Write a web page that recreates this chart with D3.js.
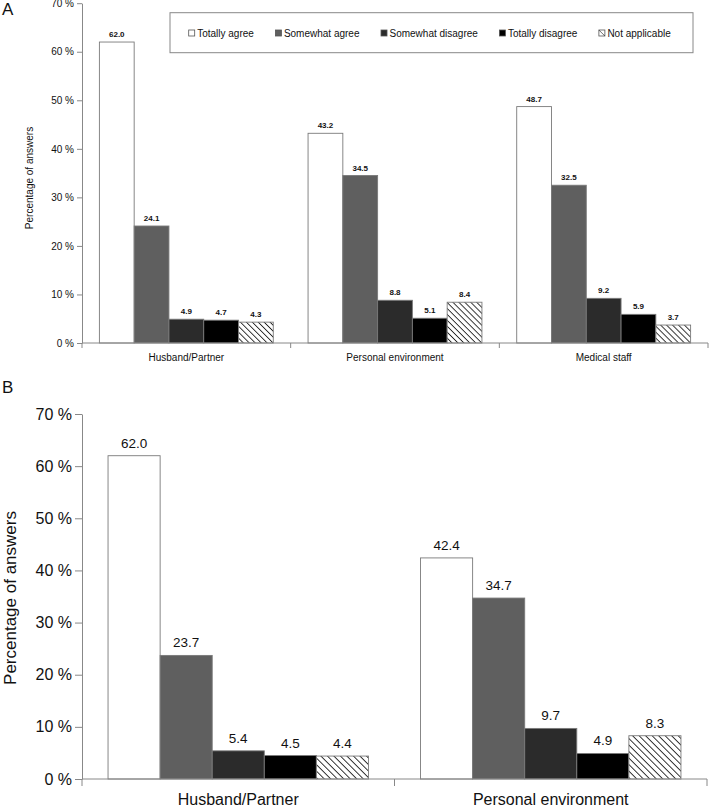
<!DOCTYPE html>
<html>
<head>
<meta charset="utf-8">
<script src="https://cdn.jsdelivr.net/npm/d3@7"></script>
<style>
  body { margin: 0; background: #fff; }
  text { font-family: 'Liberation Sans', Arial, sans-serif; fill: #111; }
</style>
</head>
<body>
<svg id="chart" width="709" height="808"></svg>
<script>
const responses = ['Totally agree', 'Somewhat agree', 'Somewhat disagree', 'Totally disagree', 'Not applicable']
const categoriesA = ['Husband/Partner', 'Personal environment', 'Medical staff']
const valuesA = [
  [62.0, 24.1, 4.9, 4.7, 4.3],
  [43.2, 34.5, 8.8, 5.1, 8.4],
  [48.7, 32.5, 9.2, 5.9, 3.7]
]
const categoriesB = ['Husband/Partner', 'Personal environment']
const valuesB = [
  [62.0, 23.7, 5.4, 4.5, 4.4],
  [42.4, 34.7, 9.7, 4.9, 8.3]
]
const yTicks = [0, 10, 20, 30, 40, 50, 60, 70]

const svg = d3.select('#chart')
const defs = svg.append('defs')

function hatch(id, size) {
  const p = defs.append('pattern')
      .attr('id', id)
      .attr('patternUnits', 'userSpaceOnUse')
      .attr('width', size)
      .attr('height', size)
      .attr('patternTransform', 'rotate(-45)')
  p.append('rect').attr('width', size).attr('height', size).attr('fill', '#fff')
  p.append('line')
      .attr('x1', size / 2).attr('x2', size / 2)
      .attr('y1', 0).attr('y2', size)
      .attr('stroke', '#222')
      .attr('stroke-width', 0.9)
}
hatch('hatchA', 4.2)
hatch('hatchB', 4.6)

const fills = id => ['#ffffff', '#5f5f5f', '#2b2b2b', '#000000', `url(#${id})`]

function drawPanel(o) {
  const g = svg.append('g')

  const y = d3.scaleLinear().domain([0, 70]).range([o.bottom, o.top])
  const x0 = d3.scaleBand()
      .domain(o.categories)
      .range([o.left, o.right])
      .paddingInner(1 / 6)
      .paddingOuter(1 / 12)
  const x1 = d3.scaleBand().domain(responses).range([0, x0.bandwidth()])
  const fill = fills(o.hatch)

  // y axis
  const yAxis = d3.axisLeft(y)
      .tickValues(yTicks)
      .tickFormat(d => d + ' %')
      .tickSize(o.tick)
      .tickSizeOuter(0)
  const ax = g.append('g')
      .attr('transform', `translate(${o.left}, 0)`)
      .call(yAxis)
  ax.select('.domain').attr('stroke', '#888')
  ax.selectAll('.tick line').attr('stroke', '#888')
  ax.selectAll('.tick text')
      .style('font-size', o.tickFont + 'px')
      .style('font-family', "'Liberation Sans', Arial, sans-serif")
      .attr('fill', '#111')
      .attr('x', -o.tick - 3)

  // bars
  const groups = g.selectAll('.grp')
      .data(o.values)
      .enter()
      .append('g')
      .attr('transform', (d, i) => `translate(${x0(o.categories[i])}, 0)`)

  groups.selectAll('rect')
      .data(d => d)
      .enter()
      .append('rect')
      .attr('x', (d, i) => x1(responses[i]))
      .attr('y', d => y(d))
      .attr('width', x1.bandwidth())
      .attr('height', d => y(0) - y(d))
      .attr('fill', (d, i) => fill[i])
      .attr('stroke', '#7a7a7a')
      .attr('stroke-width', 0.9)

  groups.selectAll('text')
      .data(d => d)
      .enter()
      .append('text')
      .text(d => d.toFixed(1))
      .attr('x', (d, i) => x1(responses[i]) + x1.bandwidth() / 2)
      .attr('y', d => y(d) - o.labelGap)
      .attr('text-anchor', 'middle')
      .style('font-size', o.valueFont + 'px')
      .style('font-weight', o.valueWeight)

  // x axis line and category separators
  g.append('line')
      .attr('x1', o.left).attr('x2', o.right)
      .attr('y1', y(0)).attr('y2', y(0))
      .attr('stroke', '#888')
  const step = x0.step()
  d3.range(o.categories.length + 1).forEach(i => {
    const bx = x0.range()[0] + i * step
    g.append('line')
        .attr('x1', bx).attr('x2', bx)
        .attr('y1', y(0)).attr('y2', y(0) + o.tick)
        .attr('stroke', '#888')
  })

  g.selectAll('.cat')
      .data(o.categories)
      .enter()
      .append('text')
      .text(d => d)
      .attr('x', d => x0(d) + x0.bandwidth() / 2)
      .attr('y', o.catY)
      .attr('text-anchor', 'middle')
      .style('font-size', o.catFont + 'px')

  g.append('text')
      .text('Percentage of answers')
      .attr('transform', `translate(${o.titleX}, ${o.titleY}) rotate(-90)`)
      .attr('text-anchor', 'middle')
      .style('font-size', o.titleFont + 'px')

  g.append('text')
      .text(o.letter)
      .attr('x', 2)
      .attr('y', o.letterY)
      .style('font-size', '17px')
}

drawPanel({
  letter: 'A', letterY: 15,
  categories: categoriesA, values: valuesA, hatch: 'hatchA',
  left: 82, right: 708, top: 3.2, bottom: 343,
  tick: 5, tickFont: 10, valueFont: 8, valueWeight: 'bold', labelGap: 5,
  catY: 361, catFont: 10,
  titleX: 33, titleY: 178, titleFont: 10
})

drawPanel({
  letter: 'B', letterY: 393,
  categories: categoriesB, values: valuesB, hatch: 'hatchB',
  left: 82, right: 707, top: 414, bottom: 779,
  tick: 7, tickFont: 16, valueFont: 13.5, valueWeight: 'normal', labelGap: 8,
  catY: 805, catFont: 16,
  titleX: 16, titleY: 598, titleFont: 17
})

// legend for panel A
const legend = svg.append('g')
legend.append('rect')
    .attr('x', 170).attr('y', 12.7)
    .attr('width', 523).attr('height', 40)
    .attr('fill', '#fff')
    .attr('stroke', '#888')
const legendFill = fills('hatchA')
let lx = 188.7
responses.forEach((r, i) => {
  legend.append('rect')
      .attr('x', lx).attr('y', 30)
      .attr('width', 6).attr('height', 6)
      .attr('fill', i === 4 ? '#fff' : legendFill[i])
      .attr('stroke', '#555')
      .attr('stroke-width', 0.8)
  if (i === 4) {
    legend.append('line')
        .attr('x1', lx).attr('y1', 30)
        .attr('x2', lx + 6).attr('y2', 36)
        .attr('stroke', '#333')
        .attr('stroke-width', 0.7)
  }
  const t = legend.append('text')
      .text(r)
      .attr('x', lx + 8.5)
      .attr('y', 36.5)
      .style('font-size', '10px')
  lx += 8.5 + t.node().getComputedTextLength() + 21.5
})
</script>
</body>
</html>
